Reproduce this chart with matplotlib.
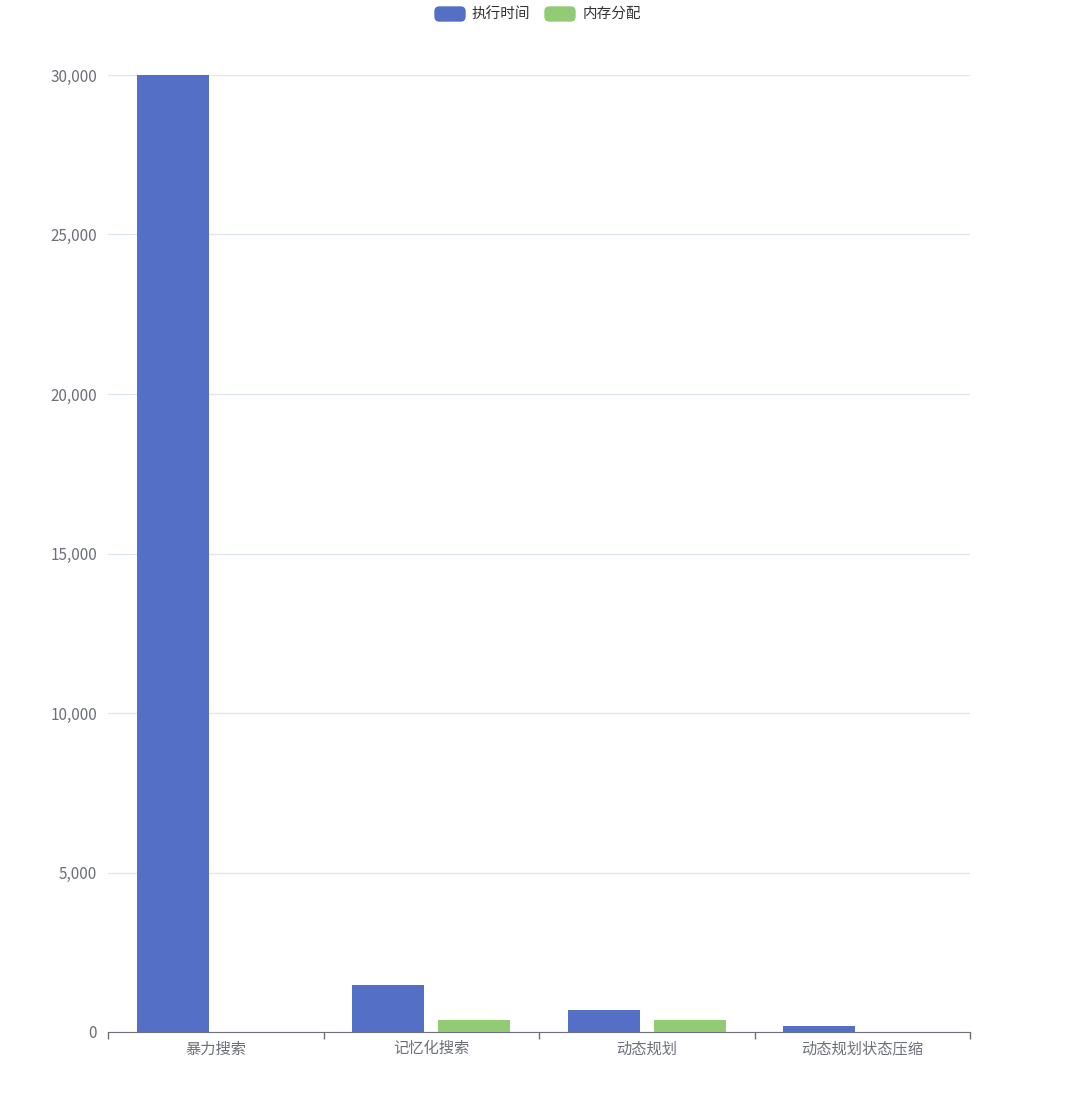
import numpy as np
import matplotlib.pyplot as plt
from matplotlib.patches import FancyBboxPatch
from matplotlib.ticker import FuncFormatter

plt.rcParams['font.family'] = ['Noto Sans CJK SC', 'DejaVu Sans']

# data
categories = ['暴力搜索', '记忆化搜索', '动态规划', '动态规划状态压缩']
exec_time = [30000, 1480, 700, 190]
mem_alloc = [0, 380, 390, 0]
series_names = ['执行时间', '内存分配']
colors = ['#5470C6', '#91CC75']

W, H = 1077, 1120
fig = plt.figure(figsize=(W / 100, H / 100), dpi=100)
ax = fig.add_axes([108 / W, 1 - 1032 / H, (970 - 108) / W, (1032 - 75) / H])

x = np.arange(len(categories))
bw = 0.334
ax.bar(x - 0.2, exec_time, width=bw, color=colors[0], zorder=3)
ax.bar(x + 0.2, mem_alloc, width=bw, color=colors[1], zorder=3)

ax.set_xlim(-0.5, len(categories) - 0.5)
ax.set_ylim(0, 30000)
ax.set_yticks(np.arange(0, 30001, 5000))
ax.yaxis.set_major_formatter(FuncFormatter(lambda v, p: f'{int(v):,}'))
ax.grid(axis='y', color='#E0E6F1', linewidth=1, zorder=0)
ax.tick_params(axis='y', length=0, pad=8, labelsize=11, labelcolor='#6E7079')

# category ticks at boundaries, labels centred
ax.set_xticks(np.arange(-0.5, len(categories), 1))
ax.set_xticklabels([])
ax.set_xticks(x, minor=True)
ax.set_xticklabels(categories, minor=True)
ax.tick_params(axis='x', which='major', length=5, color='#6E7079', width=1)
ax.tick_params(axis='x', which='minor', length=0, pad=6, labelsize=11, labelcolor='#6E7079')

for s in ['top', 'right', 'left']:
    ax.spines[s].set_visible(False)
ax.spines['bottom'].set_color('#6E7079')

# legend drawn at top centre
leg_items = [(435, 472), (545, 583)]
for (bx, tx), name, c in zip(leg_items, series_names, colors):
    rect = FancyBboxPatch((bx / W, 1 - 21 / H), 30 / W, 14 / H,
                          boxstyle='round,pad=0,rounding_size=0.004',
                          transform=fig.transFigure, color=c)
    fig.patches.append(rect)
    fig.text(tx / W, 1 - 14 / H, name, fontsize=10.5, color='#333333',
             va='center', ha='left')

fig.savefig('out.png', dpi=100)
